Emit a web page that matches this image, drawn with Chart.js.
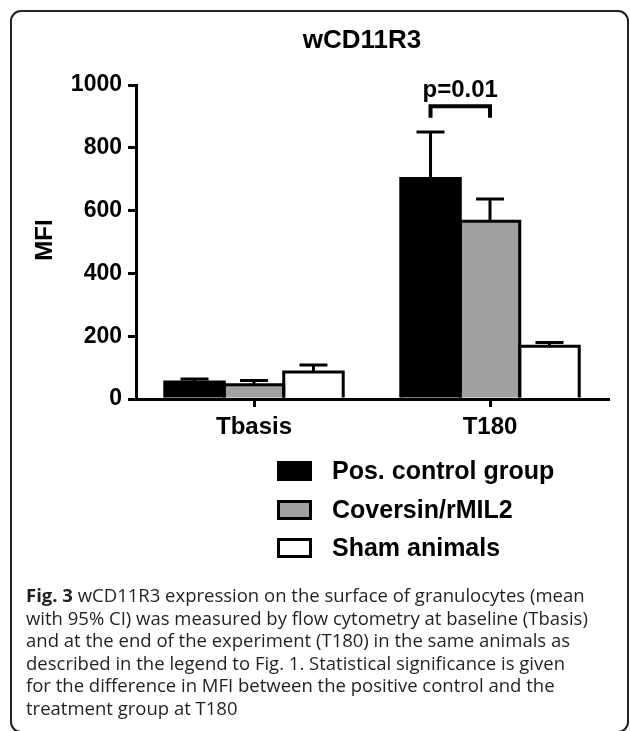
<!DOCTYPE html>
<html><head><meta charset="utf-8">
<script src="https://cdn.jsdelivr.net/npm/chart.js@4.4.0/dist/chart.umd.min.js"></script>
<style>html,body{margin:0;padding:0;background:#fff}canvas{display:block}</style>
</head><body>
<canvas id="c" width="630" height="731"></canvas>
<script>
const categories = ['Tbasis', 'T180'];
const seriesNames = ['Pos. control group', 'Coversin/rMIL2', 'Sham animals'];
const posControl = [54, 702];
const posControlUpper = [64, 850];
const coversin = [45, 566];
const coversinUpper = [59, 637];
const sham = [86, 168];
const shamUpper = [108, 180];
const yTicks = [0, 200, 400, 600, 800, 1000];
const chartTitle = 'wCD11R3';
const yTitle = 'MFI';
const sigLabel = 'p=0.01';
const sigLegValue = 896;
const sigTopValue = 932;
const captionBold = 'Fig. 3';
const captionLines = [
  ' wCD11R3 expression on the surface of granulocytes (mean',
  'with 95% CI) was measured by flow cytometry at baseline (Tbasis)',
  'and at the end of the experiment (T180) in the same animals as',
  'described in the legend to Fig. 1. Statistical significance is given',
  'for the difference in MFI between the positive control and the',
  'treatment group at T180'
];
const uppers = [posControlUpper, coversinUpper, shamUpper];

const AR = '"Liberation Sans", Arial, sans-serif';
Chart.defaults.font.family = AR;
Chart.defaults.color = '#000';

const extras = {
  id: 'extras',
  beforeDraw(chart) {
    const ctx = chart.ctx;
    ctx.save();
    ctx.fillStyle = '#fff';
    ctx.fillRect(0, 0, chart.width, chart.height);
    ctx.strokeStyle = '#222';
    ctx.lineWidth = 2;
    const x0 = 11, y0 = 11, x1 = 628, y1 = 732, r = 10;
    ctx.beginPath();
    ctx.moveTo(x0 + r, y0);
    ctx.lineTo(x1 - r, y0);
    ctx.arcTo(x1, y0, x1, y0 + r, r);
    ctx.lineTo(x1, y1 - r);
    ctx.arcTo(x1, y1, x1 - r, y1, r);
    ctx.lineTo(x0 + r, y1);
    ctx.arcTo(x0, y1, x0, y1 - r, r);
    ctx.lineTo(x0, y0 + r);
    ctx.arcTo(x0, y0, x0 + r, y0, r);
    ctx.stroke();
    ctx.restore();
  },
  afterDatasetsDraw(chart) {
    const ctx = chart.ctx;
    const ys = chart.scales.y;
    ctx.save();
    ctx.strokeStyle = '#000';
    ctx.lineWidth = 3;
    // bar outlines
    chart.data.datasets.forEach((ds, i) => {
      const meta = chart.getDatasetMeta(i);
      meta.data.forEach((bar) => {
        const l = bar.x - bar.width / 2, rr = bar.x + bar.width / 2;
        ctx.beginPath();
        ctx.moveTo(l, bar.base);
        ctx.lineTo(l, bar.y);
        ctx.lineTo(rr, bar.y);
        ctx.lineTo(rr, bar.base);
        ctx.stroke();
      });
    });
    // error bars
    chart.data.datasets.forEach((ds, i) => {
      const meta = chart.getDatasetMeta(i);
      meta.data.forEach((bar, j) => {
        const yt = bar.y;
        const ye = ys.getPixelForValue(uppers[i][j]);
        ctx.beginPath();
        ctx.moveTo(bar.x, yt);
        ctx.lineTo(bar.x, ye);
        ctx.moveTo(bar.x - 14, ye);
        ctx.lineTo(bar.x + 14, ye);
        ctx.stroke();
      });
    });
    // significance bracket
    const xa = chart.getDatasetMeta(0).data[1].x;
    const xb = chart.getDatasetMeta(1).data[1].x;
    const yTop = ys.getPixelForValue(sigTopValue);
    const yLeg = ys.getPixelForValue(sigLegValue);
    ctx.lineWidth = 4;
    ctx.beginPath();
    ctx.moveTo(xa, yLeg);
    ctx.lineTo(xa, yTop);
    ctx.lineTo(xb, yTop);
    ctx.lineTo(xb, yLeg);
    ctx.stroke();
    ctx.fillStyle = '#000';
    ctx.font = 'bold 24px ' + AR;
    ctx.textAlign = 'center';
    ctx.textBaseline = 'alphabetic';
    ctx.fillText(sigLabel, (xa + xb) / 2, yTop - 9);
    ctx.restore();
  },
  afterDraw(chart) {
    const ctx = chart.ctx;
    ctx.save();
    ctx.fillStyle = '#000';
    ctx.font = 'bold 26px ' + AR;
    ctx.textAlign = 'center';
    ctx.textBaseline = 'middle';
    ctx.fillText(chartTitle, 362, 41);
    ctx.save();
    ctx.translate(45, 240);
    ctx.rotate(-Math.PI / 2);
    ctx.font = 'bold 24px ' + AR;
    ctx.fillText(yTitle, 0, 0);
    ctx.restore();
    // legend
    ctx.textAlign = 'left';
    ctx.font = 'bold 25px ' + AR;
    const rowY = [471, 510, 548];
    chart.data.datasets.forEach((ds, i) => {
      const cy = rowY[i];
      ctx.fillStyle = ds.backgroundColor;
      ctx.fillRect(277, cy - 10, 35, 20);
      ctx.strokeStyle = '#000';
      ctx.lineWidth = 3;
      ctx.strokeRect(278.5, cy - 8.5, 32, 17);
      ctx.fillStyle = '#000';
      ctx.fillText(ds.label, 332, cy + 1);
    });
    // caption
    ctx.fillStyle = '#231f20';
    ctx.textBaseline = 'alphabetic';
    const capFont = '"Open Sans", "Noto Sans", sans-serif';
    const lineY = [602, 625, 647, 670, 692, 715];
    const x = 26;
    ctx.font = 'bold 18.5px ' + capFont;
    ctx.fillText(captionBold, x, lineY[0]);
    const bw = ctx.measureText(captionBold).width;
    ctx.font = '18.5px ' + capFont;
    ctx.fillText(captionLines[0], x + bw, lineY[0]);
    for (let k = 1; k < captionLines.length; k++) {
      ctx.fillText(captionLines[k], x, lineY[k]);
    }
    ctx.restore();
  }
};

new Chart(document.getElementById('c'), {
  type: 'bar',
  data: {
    labels: categories,
    datasets: [
      { label: seriesNames[0], data: posControl, backgroundColor: '#000000' },
      { label: seriesNames[1], data: coversin, backgroundColor: '#a0a0a0' },
      { label: seriesNames[2], data: sham, backgroundColor: '#ffffff' }
    ].map(d => Object.assign(d, {
      borderWidth: 0,
      inflateAmount: 0,
      categoryPercentage: 0.756,
      barPercentage: 1.0
    }))
  },
  options: {
    responsive: false,
    animation: false,
    devicePixelRatio: 1,
    layout: { padding: { top: 85, right: 22, bottom: 282, left: 0 } },
    plugins: { legend: { display: false }, tooltip: { enabled: false }, title: { display: false } },
    scales: {
      x: {
        offset: true,
        grid: { display: true, offset: false, drawOnChartArea: false, drawTicks: true, tickLength: 8, lineWidth: 3, color: '#000' },
        border: { display: true, width: 3, color: '#000' },
        ticks: { font: { size: 24, weight: 'bold' }, color: '#000', padding: 6 },
        afterFit: s => { s.height = 50; }
      },
      y: {
        min: 0, max: 1000,
        afterBuildTicks: s => { s.ticks = yTicks.map(v => ({ value: v })); },
        grid: { display: true, drawOnChartArea: false, drawTicks: true, tickLength: 8, lineWidth: 3, color: '#000' },
        border: { display: true, width: 3, color: '#000' },
        ticks: { font: { size: 23, weight: 'bold' }, color: '#000', padding: 6, callback: v => String(v) },
        afterFit: s => { s.width = 136; }
      }
    }
  },
  plugins: [extras]
});
</script>
</body></html>
